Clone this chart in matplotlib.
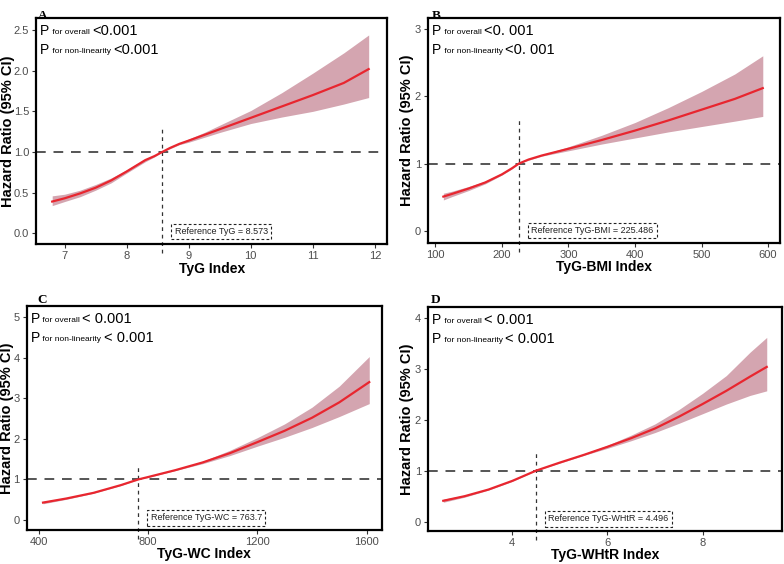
import numpy as np
import matplotlib
matplotlib.use("Agg")
import matplotlib.pyplot as plt

plt.rcParams['font.family'] = ['Liberation Sans', 'DejaVu Sans']

# Panel A: TyG
tyg_x = [6.8, 7.0, 7.25, 7.5, 7.75, 8.0, 8.15, 8.3, 8.45, 8.573, 8.7, 8.85, 9.0, 9.25,
         9.5, 10.0, 10.5, 11.0, 11.5, 11.9]
tyg_hr = [0.39, 0.43, 0.49, 0.56, 0.65, 0.76, 0.83, 0.90, 0.95, 1.00, 1.05, 1.10, 1.14, 1.21,
          1.28, 1.42, 1.56, 1.70, 1.85, 2.02]
tyg_lo = [0.34, 0.39, 0.45, 0.53, 0.62, 0.74, 0.81, 0.88, 0.94, 1.00, 1.04, 1.09, 1.12, 1.18,
          1.24, 1.35, 1.43, 1.50, 1.59, 1.67]
tyg_hi = [0.46, 0.48, 0.53, 0.60, 0.68, 0.78, 0.85, 0.91, 0.96, 1.00, 1.06, 1.11, 1.16, 1.24,
          1.33, 1.51, 1.73, 1.97, 2.22, 2.44]

# Panel B: TyG-BMI
bmi_x = [112, 125, 150, 175, 200, 215, 225.486, 240, 260, 280, 300, 350, 400, 450, 500, 550, 592]
bmi_hr = [0.51, 0.55, 0.63, 0.72, 0.84, 0.93, 1.00, 1.06, 1.12, 1.17, 1.22, 1.35, 1.49, 1.64,
          1.80, 1.96, 2.12]
bmi_lo = [0.46, 0.51, 0.60, 0.70, 0.83, 0.92, 1.00, 1.05, 1.11, 1.15, 1.19, 1.29, 1.38, 1.47,
          1.55, 1.63, 1.70]
bmi_hi = [0.56, 0.59, 0.66, 0.74, 0.86, 0.94, 1.00, 1.07, 1.13, 1.19, 1.25, 1.42, 1.61, 1.83,
          2.07, 2.33, 2.60]

# Panel C: TyG-WC
wc_x = [415, 500, 600, 700, 763.7, 800, 900, 1000, 1100, 1200, 1300, 1400, 1500, 1610]
wc_hr = [0.43, 0.53, 0.67, 0.86, 1.00, 1.06, 1.23, 1.42, 1.65, 1.92, 2.20, 2.52, 2.90, 3.40]
wc_lo = [0.40, 0.51, 0.66, 0.85, 1.00, 1.05, 1.22, 1.39, 1.59, 1.82, 2.04, 2.28, 2.55, 2.87]
wc_hi = [0.46, 0.55, 0.68, 0.87, 1.00, 1.07, 1.24, 1.45, 1.72, 2.03, 2.37, 2.78, 3.30, 4.03]

# Panel D: TyG-WHtR
whtr_x = [2.55, 3.0, 3.5, 4.0, 4.496, 5.0, 5.5, 6.0, 6.5, 7.0, 7.5, 8.0, 8.5, 9.0, 9.35]
whtr_hr = [0.41, 0.50, 0.63, 0.80, 1.00, 1.16, 1.31, 1.47, 1.64, 1.83, 2.06, 2.31, 2.57, 2.85, 3.04]
whtr_lo = [0.38, 0.48, 0.62, 0.79, 1.00, 1.15, 1.30, 1.44, 1.59, 1.75, 1.93, 2.12, 2.31, 2.48, 2.57]
whtr_hi = [0.44, 0.52, 0.64, 0.81, 1.00, 1.17, 1.33, 1.50, 1.70, 1.92, 2.20, 2.52, 2.87, 3.33, 3.62]

panels = [
    dict(letter='A', x=tyg_x, hr=tyg_hr, lo=tyg_lo, hi=tyg_hi, ref=8.573,
         ref_txt='Reference TyG = 8.573', xlabel='TyG Index',
         rect=[0.046, 0.567, 0.448, 0.401], xlim=(6.54, 12.2), ylim=(-0.135, 2.648),
         xt=[7, 8, 9, 10, 11, 12], yt=[0.0, 0.5, 1.0, 1.5, 2.0, 2.5], yfmt='%.1f',
         vtop=1.29, ptxt=['<0.001', '<0.001'], lab=(0.048, 0.982), ylx=-0.08),
    dict(letter='B', x=bmi_x, hr=bmi_hr, lo=bmi_lo, hi=bmi_hi, ref=225.486,
         ref_txt='Reference TyG-BMI = 225.486', xlabel='TyG-BMI Index',
         rect=[0.546, 0.569, 0.449, 0.399], xlim=(89, 618), ylim=(-0.18, 3.16),
         xt=[100, 200, 300, 400, 500, 600], yt=[0, 1, 2, 3], yfmt='%d',
         vtop=1.68, ptxt=['<0. 001', '<0. 001'], lab=(0.551, 0.982), ylx=-0.06),
    dict(letter='C', x=wc_x, hr=wc_hr, lo=wc_lo, hi=wc_hi, ref=763.7,
         ref_txt='Reference TyG-WC = 763.7', xlabel='TyG-WC Index',
         rect=[0.034, 0.060, 0.453, 0.397], xlim=(355, 1656), ylim=(-0.25, 5.27),
         xt=[400, 800, 1200, 1600], yt=[0, 1, 2, 3, 4, 5], yfmt='%d',
         vtop=1.3, ptxt=['< 0.001', '< 0.001'], lab=(0.048, 0.478), ylx=-0.054),
    dict(letter='D', x=whtr_x, hr=whtr_hr, lo=whtr_lo, hi=whtr_hi, ref=4.496,
         ref_txt='Reference TyG-WHtR = 4.496', xlabel='TyG-WHtR Index',
         rect=[0.546, 0.058, 0.452, 0.397], xlim=(2.23, 9.68), ylim=(-0.19, 4.21),
         xt=[4, 6, 8], yt=[0, 1, 2, 3, 4], yfmt='%d',
         vtop=1.38, ptxt=['< 0.001', '< 0.001'], lab=(0.550, 0.478), ylx=-0.059),
]

fig = plt.figure(figsize=(7.84, 5.64), dpi=100)

for p in panels:
    ax = fig.add_axes(p['rect'])
    ax.fill_between(p['x'], p['lo'], p['hi'], color='#d4a5b0', lw=0, zorder=2)
    ax.plot(p['x'], p['hr'], color='#e8262f', lw=1.6, zorder=3)
    ax.axhline(1, color='#555555', lw=1.4, dashes=(5, 4), zorder=1)
    y0, y1 = p['ylim']
    ax.plot([p['ref'], p['ref']], [y0 - 0.04 * (y1 - y0), p['vtop']], color='#333333',
            lw=0.9, dashes=(3, 3), clip_on=False, zorder=1)
    ax.text(p['ref'] + 0.035 * (p['xlim'][1] - p['xlim'][0]), 0.055, p['ref_txt'],
            transform=ax.get_xaxis_transform(), fontsize=6.5, color='#222222',
            ha='left', va='center',
            bbox=dict(boxstyle='square,pad=0.35', fc='white', ec='#222222',
                      lw=0.8, ls=(0, (2.5, 2))))
    ax.set_xlim(p['xlim'])
    ax.set_ylim(p['ylim'])
    ax.set_xticks(p['xt'])
    ax.set_yticks(p['yt'])
    ax.set_yticklabels([p['yfmt'] % v for v in p['yt']])
    ax.tick_params(labelsize=8, labelcolor='#4d4d4d', length=3, width=0.8,
                   color='#333333', pad=2)
    for s in ax.spines.values():
        s.set_linewidth(1.6)
        s.set_color('black')
    ax.set_xlabel(p['xlabel'], fontsize=10, fontweight='bold')
    ax.xaxis.label.set_va('center')
    ax.xaxis.set_label_coords(0.5, -0.108)
    ax.set_ylabel('Hazard Ratio (95% CI)', fontsize=10.5, fontweight='bold')
    ax.yaxis.label.set_va('center')
    ax.yaxis.set_label_coords(p['ylx'], 0.5)

    # P-value annotations
    for i, (sub, val) in enumerate([('for overall', p['ptxt'][0]),
                                     ('for non-linearity', p['ptxt'][1])]):
        t1 = ax.text(0.012, 0.975 - i * 0.085, 'P', transform=ax.transAxes,
                     fontsize=10, va='top', ha='left')
        t2 = ax.annotate(' ' + sub + ' ', xy=(1, 0.12), xycoords=t1, fontsize=6,
                         va='bottom', ha='left')
        ax.annotate(val, xy=(1, -0.25), xycoords=t2, fontsize=10.5,
                    va='bottom', ha='left')

    fig.text(p['lab'][0], p['lab'][1], p['letter'], fontsize=9.5, fontweight='bold',
             family='Liberation Serif', va='top', ha='left')

fig.savefig('out.png', dpi=100)
